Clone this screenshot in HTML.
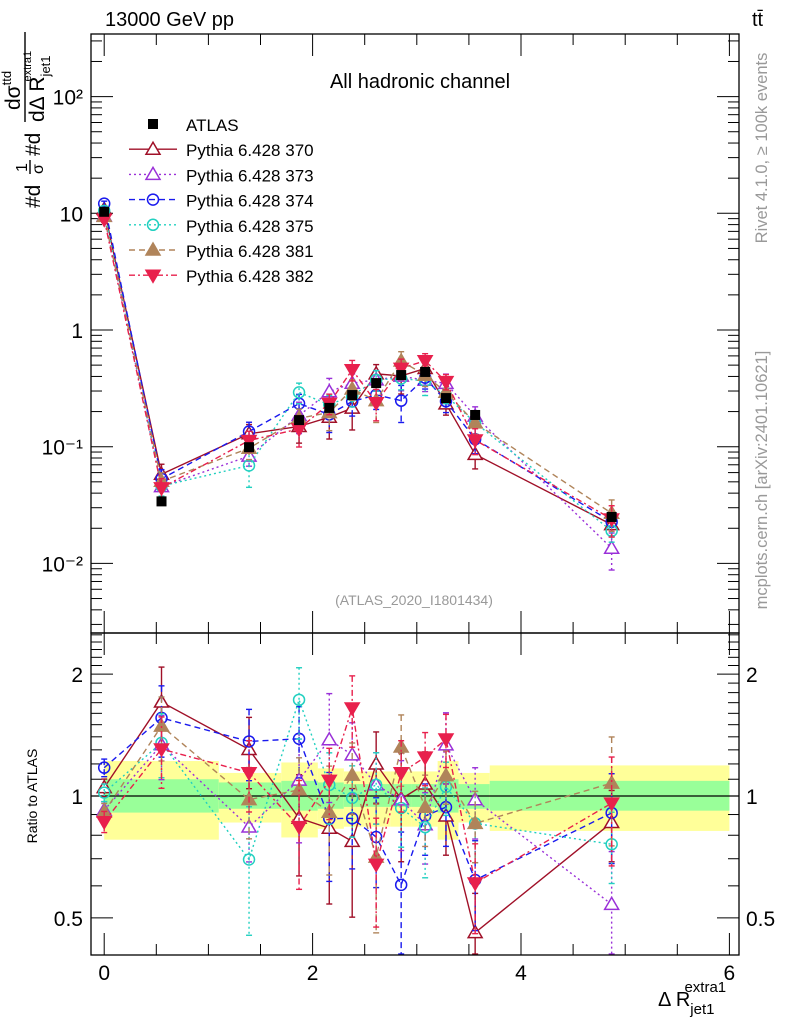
<!DOCTYPE html>
<html><head><meta charset="utf-8">
<style>
html,body{margin:0;padding:0;background:#fff;}
svg{display:block;font-family:"Liberation Sans",sans-serif;}
</style></head>
<body>
<svg id="chart" width="786" height="1024" viewBox="0 0 786 1024" xmlns="http://www.w3.org/2000/svg">
<rect x="0" y="0" width="786" height="1024" fill="#fff"/>
<g id="bands"></g>
<g id="ticks"></g>
<g id="series"></g>
<rect x="91" y="34" width="648" height="599" fill="none" stroke="#000" stroke-width="1.3"/>
<rect x="91" y="633" width="648" height="322" fill="none" stroke="#000" stroke-width="1.3"/>
<text x="105" y="26" font-size="20">13000 GeV pp</text>
<text x="752" y="26" font-size="20">tt̄</text>
<text x="420" y="88" font-size="20" text-anchor="middle">All hadronic channel</text>
<text x="414" y="605" font-size="14" fill="#999" text-anchor="middle">(ATLAS_2020_I1801434)</text>
<text transform="translate(767,148) rotate(-90)" font-size="16.5" fill="#999" text-anchor="middle">Rivet 4.1.0, ≥ 100k events</text>
<text transform="translate(767,480) rotate(-90)" font-size="16.5" fill="#999" text-anchor="middle">mcplots.cern.ch [arXiv:2401.10621]</text>
<g transform="translate(0,208) rotate(-90)">
<text x="0" y="40" font-size="21">#d</text>
<text x="36" y="27" font-size="16">1</text>
<line x1="34" y1="30" x2="48" y2="30" stroke="#000" stroke-width="1.4"/>
<text x="34" y="43" font-size="16">σ</text>
<text x="52" y="40" font-size="21">#d</text>
<text x="98" y="20" font-size="21">dσ<tspan font-size="13" dy="-9">ttd</tspan></text>
<line x1="86" y1="25" x2="176" y2="25" stroke="#000" stroke-width="1.4"/>
<text x="86" y="44" font-size="21">dΔ R<tspan font-size="13" dy="6">jet1</tspan><tspan font-size="11" dx="-26" dy="-19">extra1</tspan></text>
</g>
<text transform="translate(37,796) rotate(-90)" font-size="14" text-anchor="middle">Ratio to ATLAS</text>
<text x="658" y="1006" font-size="20">Δ R<tspan font-size="15" dy="8">jet1</tspan><tspan font-size="15" dx="-30" dy="-22">extra1</tspan></text>
<g id="legend"></g>
</svg>
<script>
const xs = [0.0, 0.55, 1.39, 1.87, 2.16, 2.38, 2.61, 2.85, 3.08, 3.28, 3.56, 4.87];
const atlas = [10.3, 0.034, 0.099, 0.169, 0.215, 0.277, 0.351, 0.411, 0.437, 0.261, 0.187, 0.025];
const atlasErr = [0.03, 0.08, 0.06, 0.06, 0.05, 0.05, 0.05, 0.05, 0.05, 0.06, 0.06, 0.08];
const bandLo = [0.0, 0.0, 1.1, 1.7, 2.05, 2.3, 2.5, 2.75, 2.95, 3.2, 3.4, 3.7];
const bandHi = [0.0, 1.1, 1.7, 2.05, 2.3, 2.5, 2.75, 2.95, 3.2, 3.4, 3.7, 6.0];
const yellowUp = [0, 1.22, 1.14, 1.21, 1.17, 1.15, 1.15, 1.15, 1.15, 1.22, 1.14, 1.19];
const yellowDn = [0, 0.78, 0.86, 0.79, 0.83, 0.84, 0.84, 0.84, 0.84, 0.78, 0.86, 0.82];
const greenUp = [0, 1.10, 1.08, 1.09, 1.08, 1.07, 1.07, 1.07, 1.07, 1.10, 1.07, 1.09];
const greenDn = [0, 0.91, 0.93, 0.92, 0.93, 0.94, 0.94, 0.94, 0.94, 0.91, 0.93, 0.92];

const mc370 = [10.8, 0.058, 0.129, 0.149, 0.179, 0.214, 0.421, 0.404, 0.468, 0.233, 0.086, 0.0215];
const mc373 = [9.5, 0.0455, 0.083, 0.185, 0.296, 0.350, 0.374, 0.402, 0.371, 0.349, 0.183, 0.0135];
const mc374 = [12.1, 0.053, 0.135, 0.234, 0.189, 0.244, 0.278, 0.248, 0.390, 0.245, 0.116, 0.0227];
const mc375 = [10.5, 0.046, 0.069, 0.292, 0.229, 0.274, 0.374, 0.384, 0.366, 0.275, 0.160, 0.019];
const mc381 = [9.4, 0.0506, 0.097, 0.175, 0.196, 0.312, 0.248, 0.543, 0.410, 0.293, 0.160, 0.0269];
const mc382 = [8.9, 0.0444, 0.113, 0.142, 0.235, 0.457, 0.238, 0.469, 0.545, 0.361, 0.114, 0.024];
const err370 = [0.05, 0.22, 0.2, 0.28, 0.35, 0.35, 0.2, 0.3, 0.2, 0.2, 0.25, 0.2];
const err373 = [0.05, 0.18, 0.18, 0.3, 0.3, 0.2, 0.2, 0.25, 0.2, 0.2, 0.2, 0.35];
const err374 = [0.05, 0.2, 0.2, 0.2, 0.3, 0.25, 0.25, 0.35, 0.2, 0.2, 0.25, 0.25];
const err375 = [0.05, 0.18, 0.35, 0.2, 0.2, 0.2, 0.2, 0.2, 0.25, 0.15, 0.2, 0.2];
const err381 = [0.05, 0.18, 0.2, 0.2, 0.3, 0.2, 0.35, 0.2, 0.2, 0.15, 0.2, 0.3];
const err382 = [0.06, 0.2, 0.2, 0.3, 0.2, 0.2, 0.3, 0.2, 0.15, 0.15, 0.25, 0.3];
const names = ["Pythia 6.428 370","Pythia 6.428 373","Pythia 6.428 374","Pythia 6.428 375","Pythia 6.428 381","Pythia 6.428 382"];
const mainTickLabels = ["10⁻²","10⁻¹","1","10","10²"];
const ratioTickVals = [0.5, 1, 2];
const xTickVals = [0, 2, 4, 6];

const NS = "http://www.w3.org/2000/svg";
const X0 = 91, X1 = 739;
const xpx = v => 104.2 + v * 104.2;
const ymain = v => 330 - 116.7 * Math.log10(v);
const yrat = v => 796 - 405 * Math.log10(v);
function mk(tag, attrs, parent) {
  const e = document.createElementNS(NS, tag);
  for (const k in attrs) e.setAttribute(k, attrs[k]);
  parent.appendChild(e);
  return e;
}
const bands = document.getElementById('bands');
const ticks = document.getElementById('ticks');
const ser = document.getElementById('series');
const leg = document.getElementById('legend');

for (let i = 0; i < xs.length; i++) {
  if (bandHi[i] <= bandLo[i]) continue;
  const y1 = mk('rect', {x: xpx(bandLo[i]), width: xpx(bandHi[i]) - xpx(bandLo[i]), y: yrat(yellowUp[i]), height: yrat(yellowDn[i]) - yrat(yellowUp[i]), fill: '#ffff99'}, bands);
  
  
  const g1 = mk('rect', {x: xpx(bandLo[i]), width: xpx(bandHi[i]) - xpx(bandLo[i]), y: yrat(greenUp[i]), height: yrat(greenDn[i]) - yrat(greenUp[i]), fill: '#99ff99'}, bands);
  
  
}
const one = mk('line', {x1: X0, x2: X1, y1: yrat(1), y2: yrat(1), stroke: '#000', 'stroke-width': 1.2}, bands);



function tline(x1, y1, x2, y2) { mk('line', {x1, y1, x2, y2, stroke: '#000', 'stroke-width': 1}, ticks); }
for (let d = -3; d <= 2; d++) {
  for (let m = 1; m <= 9; m++) {
    const v = m * Math.pow(10, d);
    const y = ymain(v);
    if (y < 34 || y > 633) continue;
    const L = m === 1 ? 22 : 11;
    tline(X0, y, X0 + L, y); tline(X1, y, X1 - L, y);
  }
}
for (let i = 0; i < mainTickLabels.length; i++) {
  const v = Math.pow(10, i - 2);
  const t = mk('text', {x: 83, y: ymain(v) + 8, 'font-size': 21, 'text-anchor': 'end'}, ticks);
  t.textContent = mainTickLabels[i];
  
  
}
for (let v = 0.4; v <= 2.6; v += 0.1) {
  const y = yrat(v);
  if (y < 633 || y > 955) continue;
  const major = ratioTickVals.some(r => Math.abs(r - v) < 1e-6);
  const L = major ? 22 : 11;
  tline(X0, y, X0 + L, y); tline(X1, y, X1 - L, y);
}
for (const r of ratioTickVals) {
  const t = mk('text', {x: 83, y: yrat(r) + 8, 'font-size': 21, 'text-anchor': 'end'}, ticks);
  t.textContent = String(r);
  
  
  const t2 = mk('text', {x: 746, y: yrat(r) + 8, 'font-size': 21}, ticks);
  t2.textContent = String(r);
  
  
}
for (let v = 0; v <= 6.01; v += 0.5) {
  const x = xpx(v);
  const major = Math.abs(v - Math.round(v / 2) * 2) < 1e-6;
  const L = major ? 22 : 11;
  tline(x, 34, x, 34 + L); tline(x, 633, x, 633 - L);
  tline(x, 633, x, 633 + L); tline(x, 955, x, 955 - L);
}
for (const v of xTickVals) {
  const t = mk('text', {x: xpx(v), y: 980, 'font-size': 21, 'text-anchor': 'middle'}, ticks);
  t.textContent = String(v);
  
  
}

function marker(kind, x, y, color, parent) {
  let e;
  if (kind === 'sq') e = mk('rect', {x: x - 5, y: y - 5, width: 10, height: 10, fill: '#000'}, parent);
  else if (kind === 'tri' || kind === 'trif') e = mk('polygon', {points: `${x},${y-7} ${x-7},${y+5} ${x+7},${y+5}`, fill: kind === 'trif' ? color : '#fff', stroke: color, 'stroke-width': 1.5}, parent);
  else if (kind === 'invf') e = mk('polygon', {points: `${x},${y+7} ${x-7},${y-5} ${x+7},${y-5}`, fill: color, stroke: color, 'stroke-width': 1.5}, parent);
  else e = mk('circle', {cx: x, cy: y, r: 5.5, fill: '#fff', 'fill-opacity': 0, stroke: color, 'stroke-width': 1.5}, parent);
  
  
}
const styles = [
  {vals: mc370, err: err370, color: '#a01028', dash: '', kind: 'tri', key: 'pythia-370'},
  {vals: mc373, err: err373, color: '#9a30d8', dash: '2,3', kind: 'tri', key: 'pythia-373'},
  {vals: mc374, err: err374, color: '#1a1aee', dash: '6,4', kind: 'circ', key: 'pythia-374'},
  {vals: mc375, err: err375, color: '#22d0c0', dash: '2,3', kind: 'circ', key: 'pythia-375'},
  {vals: mc381, err: err381, color: '#b0845a', dash: '6,4', kind: 'trif', key: 'pythia-381'},
  {vals: mc382, err: err382, color: '#e8204c', dash: '6,3,2,3', kind: 'invf', key: 'pythia-382'}
];
styles.forEach(s => {
  const g = mk('g', {}, ser);
  
  
  const ptsM = s.vals.map((v, i) => `${xpx(xs[i])},${ymain(v)}`).join(' ');
  const ptsR = s.vals.map((v, i) => `${xpx(xs[i])},${yrat(v / atlas[i])}`).join(' ');
  const l1 = mk('polyline', {points: ptsM, fill: 'none', stroke: s.color, 'stroke-width': 1.4, 'stroke-dasharray': s.dash}, g);
  
  
  const l2 = mk('polyline', {points: ptsR, fill: 'none', stroke: s.color, 'stroke-width': 1.4, 'stroke-dasharray': s.dash}, g);
  
  
  s.vals.forEach((v, i) => {
    const x = xpx(xs[i]);
    const e = s.err[i];
    const ya = ymain(v * (1 + e)), yb = ymain(Math.max(v * (1 - e), 1e-4));
    mk('line', {x1: x, x2: x, y1: ya, y2: yb, stroke: s.color, 'stroke-width': 1.4, 'stroke-dasharray': s.dash}, g);
    mk('line', {x1: x - 3, x2: x + 3, y1: ya, y2: ya, stroke: s.color, 'stroke-width': 1.4}, g);
    mk('line', {x1: x - 3, x2: x + 3, y1: yb, y2: yb, stroke: s.color, 'stroke-width': 1.4}, g);
    const r = v / atlas[i];
    const ra = Math.max(yrat(r * (1 + e)), 634), rb = Math.min(yrat(r * (1 - e)), 954);
    mk('line', {x1: x, x2: x, y1: ra, y2: rb, stroke: s.color, 'stroke-width': 1.4, 'stroke-dasharray': s.dash}, g);
    mk('line', {x1: x - 3, x2: x + 3, y1: ra, y2: ra, stroke: s.color, 'stroke-width': 1.4}, g);
    mk('line', {x1: x - 3, x2: x + 3, y1: rb, y2: rb, stroke: s.color, 'stroke-width': 1.4}, g);
    marker(s.kind, x, ymain(v), s.color, g);
    marker(s.kind, x, yrat(r), s.color, g);
  });
});
const ga = mk('g', {}, ser);


atlas.forEach((v, i) => {
  const x = xpx(xs[i]);
  mk('line', {x1: x, x2: x, y1: ymain(v * (1 + atlasErr[i])), y2: ymain(v * (1 - atlasErr[i])), stroke: '#000', 'stroke-width': 1.4}, ga);
  marker('sq', x, ymain(v), '#000', ga);
});

const ly0 = 124, ldy = 25.2;
marker('sq', 153, ly0, '#000', leg);
const la = mk('text', {x: 186, y: ly0 + 7, 'font-size': 17}, leg);
la.textContent = 'ATLAS';


styles.forEach((s, i) => {
  const y = ly0 + ldy * (i + 1);
  const ln = mk('line', {x1: 129, x2: 177, y1: y, y2: y, stroke: s.color, 'stroke-width': 1.4, 'stroke-dasharray': s.dash}, leg);
  
  
  marker(s.kind, 153, y, s.color, leg);
  const t = mk('text', {x: 186, y: y + 7, 'font-size': 17}, leg);
  t.textContent = names[i];
  
  
});
</script>
</body></html>
